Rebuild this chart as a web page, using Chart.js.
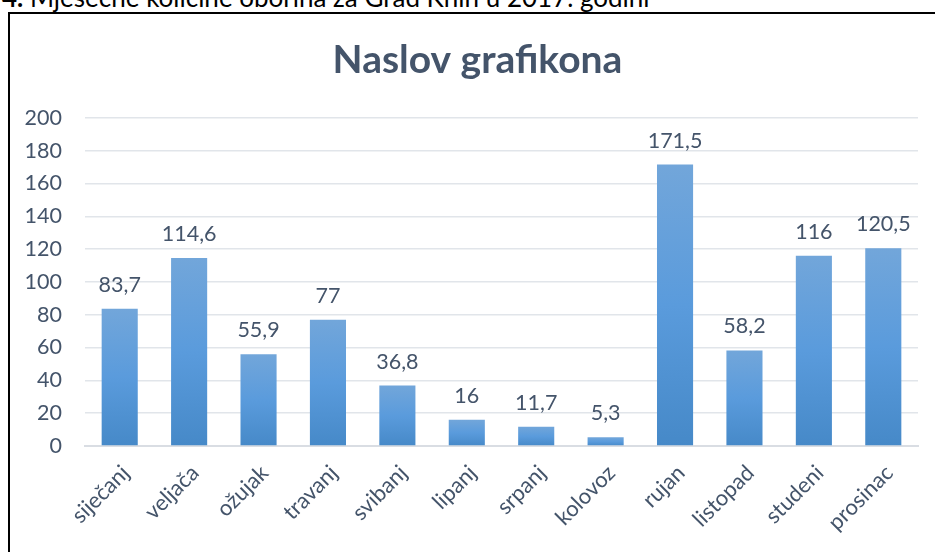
<!DOCTYPE html>
<html>
<head>
<meta charset="utf-8">
<script src="https://cdn.jsdelivr.net/npm/chart.js@4/dist/chart.umd.min.js"></script>
<style>
  html, body { margin: 0; padding: 0; width: 935px; height: 552px; overflow: hidden; background: #fff; }
  #caption { position: absolute; left: 2px; top: -18px; font-family: Lato, "Open Sans", sans-serif; font-size: 26px; line-height: 1.2; color: #000; white-space: nowrap; }
  #frame { position: absolute; left: 8px; top: 12px; width: 1000px; height: 600px; border-left: 2px solid #000; border-top: 2px solid #000; }
  #wrap { position: absolute; left: 10px; top: 0px; width: 935px; height: 552px; }
</style>
</head>
<body>
<div id="caption"><b>4.</b> Mjesečne količine oborina za Grad Knin u 2017. godini</div>
<div id="frame"></div>
<div id="wrap"><canvas id="c" width="935" height="552"></canvas></div>
<script>
const titleText = "Naslov grafikona";
const months = ["siječanj", "veljača", "ožujak", "travanj", "svibanj", "lipanj", "srpanj", "kolovoz", "rujan", "listopad", "studeni", "prosinac"];
const rainfall = [83.7, 114.6, 55.9, 77, 36.8, 16, 11.7, 5.3, 171.5, 58.2, 116, 120.5];
const yMin = 0, yMax = 200, yStep = 20;

const textColor = "#44546a";
const fontFamily = "Lato, 'Open Sans', sans-serif";

const fmt = v => String(v).replace(".", ",");

const barGradient = (c) => {
  const chart = c.chart;
  const ys = chart.scales && chart.scales.y;
  if (!ys || c.type !== "data") return "#5b9bd5";
  const top = ys.getPixelForValue(c.raw);
  const bot = ys.getPixelForValue(0);
  if (!isFinite(top) || !isFinite(bot) || top === bot) return "#5b9bd5";
  const g = chart.ctx.createLinearGradient(0, top, 0, bot);
  g.addColorStop(0, "#72a6da");
  g.addColorStop(0.5, "#5a9bdc");
  g.addColorStop(1, "#4689c8");
  return g;
};

const valueLabels = {
  id: "valueLabels",
  afterDatasetsDraw(chart) {
    const ctx = chart.ctx;
    const meta = chart.getDatasetMeta(0);
    ctx.save();
    ctx.font = "21.5px " + fontFamily;
    ctx.fillStyle = textColor;
    ctx.textAlign = "center";
    ctx.textBaseline = "alphabetic";
    meta.data.forEach((el, i) => {
      ctx.fillText(fmt(chart.data.datasets[0].data[i]), el.x, el.y - 17);
    });
    ctx.restore();
  }
};

new Chart(document.getElementById("c"), {
  type: "bar",
  data: {
    labels: months,
    datasets: [{
      data: rainfall,
      backgroundColor: barGradient,
      borderWidth: 0,
      barPercentage: 0.52,
      categoryPercentage: 1.0
    }]
  },
  options: {
    responsive: false,
    animation: false,
    events: [],
    layout: { padding: 0 },
    plugins: {
      legend: { display: false },
      tooltip: { enabled: false },
      title: {
        display: true,
        text: titleText,
        color: textColor,
        font: { family: fontFamily, size: 39, weight: "bold" },
        padding: { top: 37, bottom: 34 }
      }
    },
    scales: {
      x: {
        grid: { display: false, drawTicks: false },
        border: { display: true, color: "#d9dde3", width: 2 },
        ticks: {
          color: textColor,
          font: { family: fontFamily, size: 22 },
          minRotation: 45,
          maxRotation: 45,
          autoSkip: false,
          padding: 14,
          labelOffset: 6
        },
        afterFit(s) { s.height = 106; }
      },
      y: {
        min: yMin,
        max: yMax,
        grid: { color: "#e1e5ea", lineWidth: 1.5, drawTicks: false },
        border: { display: false },
        ticks: {
          stepSize: yStep,
          color: textColor,
          font: { family: fontFamily, size: 21.5 },
          padding: 23
        },
        afterFit(s) { s.width = 75; }
      },
      y2: {
        axis: "y",
        position: "right",
        min: yMin,
        max: yMax,
        grid: { display: false, drawTicks: false },
        border: { display: false },
        ticks: { display: false },
        afterFit(s) { s.width = 27; }
      }
    }
  },
  plugins: [valueLabels]
});
</script>
</body>
</html>
